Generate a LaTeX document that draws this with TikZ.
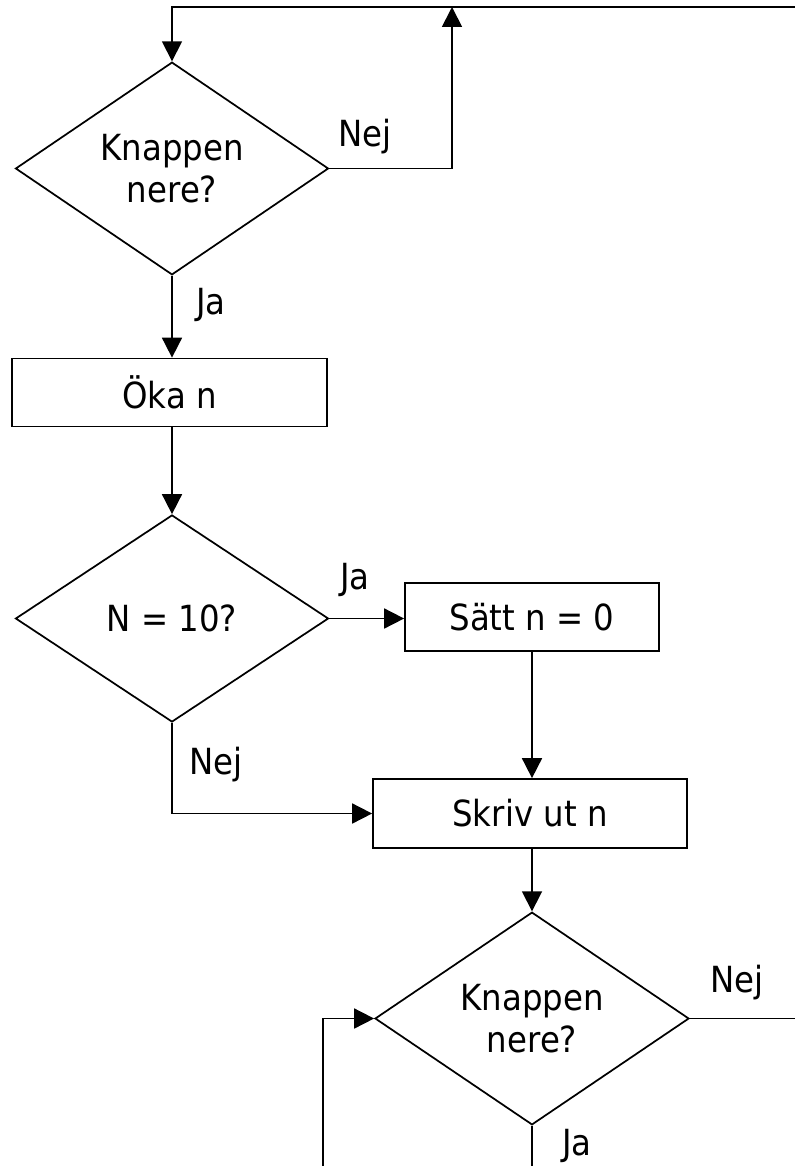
\documentclass[tikz,border=0pt]{standalone}
\usepackage{fontspec}
\setmainfont[FakeStretch=0.9]{DejaVu Sans}
\usetikzlibrary{shapes.geometric,arrows.meta}
\tikzset{
  every node/.style={font=\fontsize{27}{32}\selectfont},
  procbox/.style={draw, line width=1.3pt, rectangle, inner sep=0pt, minimum height=68*0.75pt},
  decision/.style={draw, line width=1.3pt, diamond, inner sep=0pt, align=center, minimum width=313*0.75pt, minimum height=207*0.75pt},
  conn/.style={line width=1.3pt},
  arr/.style={line width=1.3pt, -{Triangle[length=15pt,width=15pt]}},
  lbl/.style={inner sep=0pt}
}
\begin{document}
\begin{tikzpicture}[x=0.75pt,y=-0.75pt]
\useasboundingbox (0,0) rectangle (795,1166);
% nodes
\node[decision] (d1) at (172,168.5) {Knappen\\nere?};
\node[procbox, minimum width=315*0.75pt] (oka) at (169.5,392.5) {Öka n};
\node[decision] (d2) at (172,618.5) {N = 10?};
\node[procbox, minimum width=254*0.75pt] (satt) at (532,617) {Sätt n = 0};
\node[procbox, minimum width=314*0.75pt, minimum height=69*0.75pt] (skriv) at (530,813.5) {Skriv ut n};
\node[decision, minimum width=314*0.75pt, minimum height=211*0.75pt] (d3) at (532,1018.5) {Knappen\\nere?};
% labels
\node[lbl] (l1) at (365,137) {Nej};
\node[lbl] (l2) at (211,305) {Ja};
\node[lbl] (l3) at (355,580) {Ja};
\node[lbl] (l4) at (216,765) {Nej};
\node[lbl] (l5) at (737,983) {Nej};
\node[lbl] (l6) at (577,1146) {Ja};
% coordinates
\coordinate (tr) at (795,7);
\coordinate (tl) at (172,7);
\coordinate (up) at (452,7);
\coordinate (r3) at (795,1018.5);
\coordinate (b3) at (532,1166);
\coordinate (lb) at (323,1166);
% connectors
\draw[arr] (tr) -- (tl) -- (d1.north);
\draw[arr] (d1.east) -| (up);
\draw[arr] (d1.south) -- (oka.north -| d1.south);
\draw[arr] (oka.south -| d1.south) -- (d2.north);
\draw[arr] (d2.east) -- (satt.west |- d2.east);
\draw[arr] (satt.south) -- (skriv.north -| satt.south);
\draw[arr] (d2.south) |- (skriv.west);
\draw[arr] (skriv.south -| d3.north) -- (d3.north);
\draw[conn] (d3.east) -- (r3);
\draw[conn] (d3.south) -- (b3);
\draw[arr] (lb) |- (d3.west);
\end{tikzpicture}
\end{document}
